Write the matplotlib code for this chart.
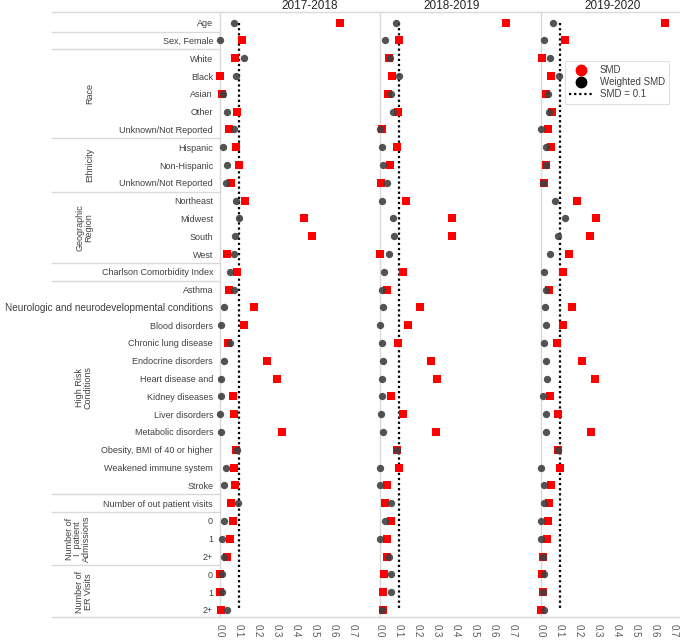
import numpy as np
import matplotlib
matplotlib.use('Agg')
import matplotlib.pyplot as plt
from matplotlib.lines import Line2D
from matplotlib.transforms import blended_transform_factory

plt.rcParams['font.family'] = ['Liberation Sans', 'DejaVu Sans']

# --- data ---
row_labels = [
    'Age', 'Sex, Female',
    'White', 'Black', 'Asian', 'Other', 'Unknown/Not Reported',
    'Hispanic', 'Non-Hispanic', 'Unknown/Not Reported',
    'Northeast', 'Midwest', 'South', 'West',
    'Charlson Comorbidity Index',
    'Asthma', 'Neurologic and neurodevelopmental conditions', 'Blood disorders',
    'Chronic lung disease', 'Endocrine disorders', 'Heart disease and',
    'Kidney diseases', 'Liver disorders', 'Metabolic disorders',
    'Obesity, BMI of 40 or higher', 'Weakened immune system', 'Stroke',
    'Number of out patient visits',
    '0', '1', '2+',
    '0', '1', '2+',
]
periods = ['2017-2018', '2018-2019', '2019-2020']

smd_1718 = [0.635, 0.118, 0.079, 0.0, 0.01, 0.088, 0.05, 0.085, 0.099, 0.056,
            0.132, 0.443, 0.487, 0.039, 0.09, 0.046, 0.18, 0.129, 0.042, 0.247,
            0.302, 0.069, 0.076, 0.328, 0.086, 0.072, 0.078, 0.058,
            0.067, 0.051, 0.039, 0.0, 0.0, 0.007]
wsmd_1718 = [0.076, 0.0, 0.127, 0.086, 0.014, 0.035, 0.074, 0.014, 0.039, 0.032,
             0.086, 0.099, 0.079, 0.072, 0.053, 0.072, 0.019, 0.004, 0.055, 0.019,
             0.005, 0.004, 0.0, 0.005, 0.088, 0.034, 0.021, 0.097,
             0.021, 0.009, 0.019, 0.012, 0.012, 0.039]

smd_1819 = [0.667, 0.102, 0.05, 0.065, 0.04, 0.093, 0.013, 0.089, 0.053, 0.005,
            0.137, 0.381, 0.381, 0.0, 0.119, 0.035, 0.211, 0.149, 0.095, 0.268,
            0.304, 0.06, 0.119, 0.295, 0.089, 0.098, 0.039, 0.026,
            0.056, 0.039, 0.035, 0.023, 0.016, 0.014]
wsmd_1819 = [0.084, 0.026, 0.055, 0.102, 0.056, 0.067, 0.0, 0.009, 0.018, 0.037,
             0.012, 0.068, 0.074, 0.047, 0.023, 0.012, 0.014, 0.0, 0.009, 0.014,
             0.009, 0.009, 0.005, 0.018, 0.089, 0.002, 0.0, 0.056,
             0.026, 0.0, 0.047, 0.058, 0.058, 0.009]

smd_1920 = [0.654, 0.125, 0.003, 0.052, 0.028, 0.057, 0.038, 0.052, 0.028, 0.016,
            0.19, 0.292, 0.257, 0.148, 0.118, 0.042, 0.162, 0.115, 0.083, 0.219,
            0.283, 0.05, 0.089, 0.266, 0.089, 0.1, 0.052, 0.042,
            0.037, 0.033, 0.009, 0.003, 0.009, 0.0]
wsmd_1920 = [0.066, 0.016, 0.049, 0.097, 0.038, 0.043, 0.0, 0.026, 0.028, 0.01,
             0.073, 0.129, 0.09, 0.047, 0.016, 0.024, 0.019, 0.024, 0.016, 0.024,
             0.031, 0.012, 0.028, 0.026, 0.089, 0.0, 0.017, 0.017,
             0.0, 0.0, 0.009, 0.016, 0.012, 0.016]

smd_all = [smd_1718, smd_1819, smd_1920]
wsmd_all = [wsmd_1718, wsmd_1819, wsmd_1920]

group_labels = ['Race', 'Ethnicity', 'Geographic\nRegion', 'High Risk\nConditions',
                'Number of\nI  patient\nAdmissions', 'Number of\nER Visits']
group_rows = [(2, 6), (7, 9), (10, 13), (15, 26), (28, 30), (31, 33)]
separators = [0.5, 1.5, 6.5, 9.5, 13.5, 14.5, 26.5, 27.5, 30.5]
threshold = 0.1
xticks = [0.0, 0.1, 0.2, 0.3, 0.4, 0.5, 0.6, 0.7]

# --- layout ---
W, H = 680, 641
fig = plt.figure(figsize=(W / 100, H / 100), dpi=100)
rows = np.arange(len(row_labels))
grid_c = '#d9d9d9'
text_c = '#404040'

panel_left = [220, 380, 541]
title_x = [0.5625, 0.45, 0.45]
axes = []
for k in range(3):
    ax = fig.add_axes([panel_left[k] / W, (H - 617) / H, 160 / W, 605 / H])
    ax.set_xlim(0, 0.846)
    ax.set_ylim(33.4, -0.6)
    for s in ['top', 'right', 'bottom']:
        ax.spines[s].set_visible(False)
    ax.spines['left'].set_color(grid_c)
    ax.spines['left'].set_linewidth(1.0)
    ax.set_xticks(xticks)
    ax.set_xticklabels(['%.1f' % t for t in xticks], rotation=-90,
                       fontsize=7, color='#595959')
    ax.tick_params(axis='x', length=0, pad=5)
    ax.tick_params(axis='y', length=0)

    ax.plot([threshold, threshold], [0, len(row_labels) - 1], color='black',
            linestyle=(0, (1, 1.3)), linewidth=1.6, zorder=2)
    ax.scatter(smd_all[k], rows, marker='s', s=36, color='#ff0000',
               linewidths=0, zorder=3, clip_on=False)
    ax.scatter(wsmd_all[k], rows, marker='o', s=28, color='#404040',
               linewidths=0, alpha=0.9, zorder=4, clip_on=False)
    ax.set_title(periods[k], x=title_x[k], fontsize=8.5, pad=1.5, color='#262626')
    if k == 0:
        ax.set_yticks(rows)
        ax.set_yticklabels(row_labels, fontsize=6.5, color=text_c)
        ax.tick_params(axis='y', pad=5)
        for lab in ax.get_yticklabels():
            if lab.get_text().startswith('Neurologic'):
                lab.set_fontsize(7.2)
    else:
        ax.set_yticks([])
    axes.append(ax)

ax1 = axes[0]
tr = blended_transform_factory(fig.transFigure, ax1.transData)
for yy in separators:
    fig.add_artist(Line2D([52 / W, 220 / W], [yy, yy], transform=tr,
                          color=grid_c, linewidth=1.0))
for yy in [-0.6, 33.4]:
    fig.add_artist(Line2D([52 / W, 1.0], [yy, yy], transform=tr,
                          color=grid_c, linewidth=1.0))

group_x = [90, 90, 84, 84, 78, 84]
for lab, (r0, r1), gx in zip(group_labels, group_rows, group_x):
    fig.text(gx / W, 0, lab, transform=tr, rotation=90, ha='center', va='center',
             fontsize=6.5, color=text_c, linespacing=0.95)
    fig.texts[-1].set_position((gx / W, (r0 + r1) / 2))

handles = [
    Line2D([], [], marker='o', linestyle='none', color='#ff0000', markersize=7.5),
    Line2D([], [], marker='o', linestyle='none', color='black', markersize=7.5),
    Line2D([], [], color='black', linestyle=(0, (1, 1.3)), linewidth=1.6),
]
leg = fig.legend(handles, ['SMD', 'Weighted SMD', 'SMD = 0.1'],
                 loc='upper right', bbox_to_anchor=(669 / W, 1 - 61 / H),
                 fontsize=7, frameon=True, fancybox=False, handlelength=2.4,
                 borderpad=0.45, labelspacing=0.2, handletextpad=0.7,
                 borderaxespad=0)
leg.get_frame().set_edgecolor(grid_c)
leg.get_frame().set_linewidth(0.8)
for t in leg.get_texts():
    t.set_color(text_c)

fig.savefig('out.png', dpi=100)
